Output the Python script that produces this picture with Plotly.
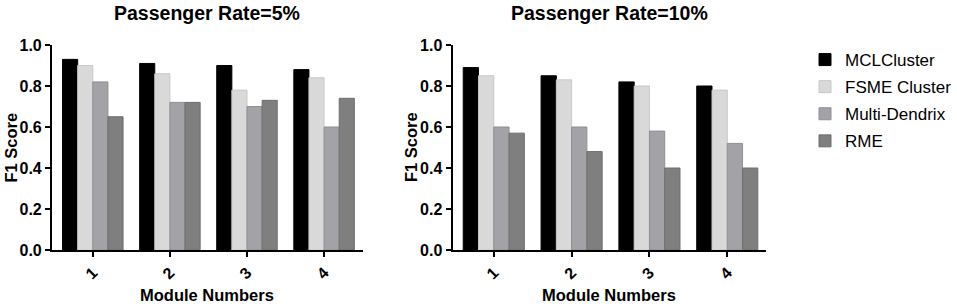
import plotly.graph_objects as go

categories = ["1", "2", "3", "4"]
series_names = ["MCLCluster", "FSME Cluster", "Multi-Dendrix", "RME"]
colors = ["#000000", "#d9d9d9", "#a2a2a7", "#7f7f7f"]
edge_colors = ["#000000", "#c8c8c8", "#8f8f94", "#6e6e6e"]

rate5_mcl = [0.93, 0.91, 0.90, 0.88]
rate5_fsme = [0.90, 0.86, 0.78, 0.84]
rate5_multi = [0.82, 0.72, 0.70, 0.60]
rate5_rme = [0.65, 0.72, 0.73, 0.74]

rate10_mcl = [0.89, 0.85, 0.82, 0.80]
rate10_fsme = [0.85, 0.83, 0.80, 0.78]
rate10_multi = [0.60, 0.60, 0.58, 0.52]
rate10_rme = [0.57, 0.48, 0.40, 0.40]

titles = ["Passenger Rate=5%", "Passenger Rate=10%"]
x_title = "Module Numbers"
y_title = "F1 Score"
y_ticks = [0.0, 0.2, 0.4, 0.6, 0.8, 1.0]

W, H = 957, 307
FONT = "Arial, 'Liberation Sans', sans-serif"

fig = go.Figure()

panels = [
    ([rate5_mcl, rate5_fsme, rate5_multi, rate5_rme], "x", "y"),
    ([rate10_mcl, rate10_fsme, rate10_multi, rate10_rme], "x2", "y2"),
]
for p, (vals, xa, ya) in enumerate(panels):
    for i, name in enumerate(series_names):
        fig.add_trace(go.Bar(
            x=categories, y=vals[i], name=name, xaxis=xa, yaxis=ya,
            marker=dict(color=colors[i], line=dict(color=edge_colors[i], width=1)),
            showlegend=(p == 0), legendgroup=name,
        ))

# pixel layout
left_dom = [52 / W, 363 / W]
right_dom = [453 / W, 767 / W]
y_dom = [1 - 250 / H, 1 - 45 / H]

axis_common = dict(
    showline=True, linecolor="black", linewidth=2, ticks="outside",
    tickcolor="black", tickwidth=2, ticklen=5, showgrid=False, zeroline=False,
    automargin=False,
    tickfont=dict(family=FONT, size=16, color="black", weight="bold"),
)
xcommon = dict(axis_common, type="category", tickangle=-45, range=[-0.53, 3.5])
ycommon = dict(axis_common, range=[0, 1.0], tickvals=y_ticks,
               ticktext=[f"{v:.1f}" for v in y_ticks])

fig.update_layout(
    template="none",
    width=W, height=H,
    margin=dict(l=0, r=0, t=0, b=0, pad=0),
    paper_bgcolor="white", plot_bgcolor="white",
    barmode="group", bargap=0.215, bargroupgap=0,
    font=dict(family=FONT, color="black"),
    xaxis=dict(xcommon, domain=left_dom, anchor="y"),
    yaxis=dict(ycommon, domain=y_dom, anchor="x"),
    xaxis2=dict(xcommon, domain=right_dom, anchor="y2"),
    yaxis2=dict(ycommon, domain=y_dom, anchor="x2"),
    legend=dict(
        x=806 / W, y=1 - 42 / H, xanchor="left", yanchor="top",
        font=dict(family=FONT, size=17, color="black"),
        traceorder="grouped", tracegroupgap=2, bgcolor="rgba(0,0,0,0)",
    ),
)

annotations = []
for dom, t, ytx in [(left_dom, titles[0], 11 / W), (right_dom, titles[1], 411 / W)]:
    cx = (dom[0] + dom[1]) / 2
    annotations.append(dict(text=f"<b>{t}</b>", x=cx, y=1 - 13 / H, xref="paper", yref="paper",
                            showarrow=False, xanchor="center", yanchor="middle",
                            font=dict(family=FONT, size=19.5, color="black")))
    annotations.append(dict(text=f"<b>{x_title}</b>", x=cx, y=1 - 295 / H, xref="paper", yref="paper",
                            showarrow=False, xanchor="center", yanchor="middle",
                            font=dict(family=FONT, size=16.5, color="black")))
    annotations.append(dict(text=f"<b>{y_title}</b>", x=ytx, y=(y_dom[0] + y_dom[1]) / 2,
                            xref="paper", yref="paper", textangle=-90,
                            showarrow=False, xanchor="center", yanchor="middle",
                            font=dict(family=FONT, size=16.5, color="black")))
fig.update_layout(annotations=annotations)

fig.write_html("out.html", config={"displayModeBar": False},
               post_script="document.body.style.margin='0px';")
